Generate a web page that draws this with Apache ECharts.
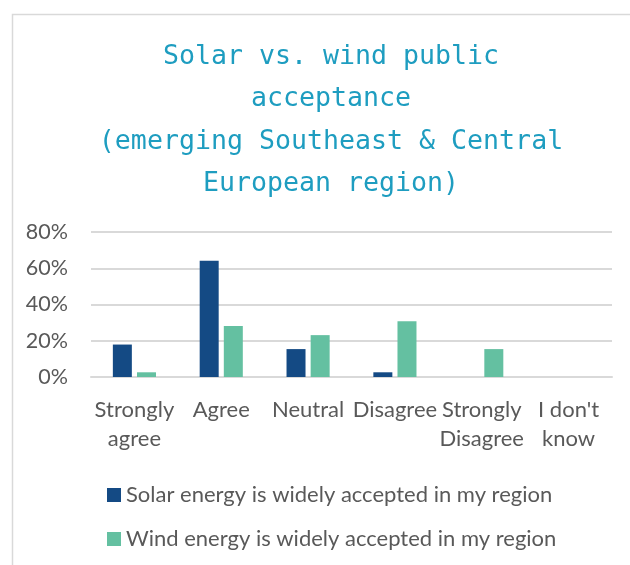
<!DOCTYPE html>
<html>
<head>
<meta charset="utf-8">
<script src="https://cdn.jsdelivr.net/npm/echarts@6/dist/echarts.min.js"></script>
<style>html,body{margin:0;padding:0;background:#fff}#c{width:630px;height:565px}</style>
</head>
<body>
<div id="c"></div>
<script>
var titleText = "Solar vs. wind public\nacceptance\n(emerging Southeast & Central\nEuropean region)";
var categories = ["Strongly\nagree", "Agree", "Neutral", "Disagree", "Strongly\nDisagree", "I don't\nknow"];
var seriesNames = ["Solar energy is widely accepted in my region", "Wind energy is widely accepted in my region"];
var solarValues = [17.9, 64.1, 15.4, 2.6, 0, 0];
var windValues = [2.6, 28.2, 23.1, 30.8, 15.4, 0];
var yTicks = { min: 0, max: 80, interval: 20 };

var textColor = '#595959';
var fontFam = 'Lato, "Liberation Sans", sans-serif';
var chart = echarts.init(document.getElementById('c'), null, { renderer: 'canvas' });
chart.setOption({
  animation: false,
  backgroundColor: '#ffffff',
  graphic: [{
    type: 'rect', left: 10, top: 12, z: -10,
    shape: { width: 700, height: 700 },
    style: { fill: 'none', stroke: '#D9D9D9', lineWidth: 1.5 }
  }],
  title: {
    text: titleText,
    left: 326, top: 31, textAlign: 'center',
    textStyle: { fontFamily: '"DejaVu Sans Mono", "Liberation Mono", monospace', fontSize: 26.6, fontWeight: 'normal', color: '#1E9DC0', lineHeight: 42.3 }
  },
  grid: { left: 91, right: 18, top: 232, bottom: 188, containLabel: false },
  legend: {
    orient: 'vertical', left: 102, top: 479, itemGap: 22,
    itemWidth: 14, itemHeight: 14, icon: 'rect',
    textStyle: { fontFamily: fontFam, fontSize: 22, color: textColor },
    data: seriesNames
  },
  xAxis: {
    type: 'category', data: categories,
    axisTick: { show: false },
    axisLine: { lineStyle: { color: '#D9D9D9', width: 2 } },
    axisLabel: { fontFamily: fontFam, fontSize: 22, color: textColor, lineHeight: 29, margin: 18, interval: 0 }
  },
  yAxis: {
    type: 'value', min: yTicks.min, max: yTicks.max, interval: yTicks.interval,
    axisLine: { show: false }, axisTick: { show: false },
    splitLine: { lineStyle: { color: '#D9D9D9', width: 2 } },
    axisLabel: { fontFamily: fontFam, fontSize: 21.5, color: textColor, margin: 23, formatter: '{value}%' }
  },
  series: [
    { name: seriesNames[0], type: 'bar', data: solarValues, barWidth: 19, barGap: '27%', itemStyle: { color: '#144A84' } },
    { name: seriesNames[1], type: 'bar', data: windValues, barWidth: 19, itemStyle: { color: '#64C0A1' } }
  ]
});
</script>
</body>
</html>
